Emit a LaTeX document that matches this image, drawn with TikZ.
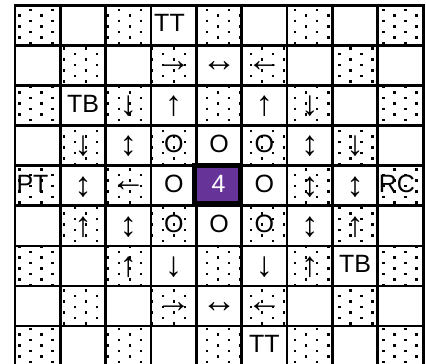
\documentclass[tikz,border=0pt]{standalone}
\usepackage{fontspec}
\setmainfont{Liberation Sans}
\definecolor{cellpurple}{RGB}{102,51,153}
\begin{document}
\begin{tikzpicture}[x=1pt,y=-1pt,
  gridline/.style={line width=2.7pt,black,line cap=rect},
  centerbox/.style={line width=5.5pt,draw=black,fill=cellpurple},
  lab/.style={inner sep=0pt,font=\fontsize{25}{30}\selectfont},
  arr/.style={inner sep=0pt,font=\fontsize{35}{40}\selectfont},
  dotsq/.style={fill=black}]
\useasboundingbox (0,0) rectangle (426,364);
\def\xo{15}\def\yo{5.3}\def\cw{45.35}\def\ch{40.1}
\fill[white] (0,0) rectangle (426,364);
% dotted cells
\begin{scope}
\clip \foreach \c/\r in {1/1,3/1,5/1,7/1,9/1,2/2,4/2,6/2,8/2,1/3,3/3,5/3,7/3,9/3,2/4,4/4,6/4,8/4,1/5,3/5,7/5,9/5,2/6,4/6,6/6,8/6,1/7,3/7,5/7,7/7,9/7,2/8,4/8,6/8,8/8,1/9,3/9,5/9,7/9,9/9}
  {({\xo+(\c-1)*\cw},{\yo+(\r-1)*\ch}) rectangle ++(\cw,\ch)};
\foreach \i in {0,...,18}{
  \foreach \j in {0,...,33}{
    \fill[dotsq] ({30.7+22.04*\i-1.25},{10+11*\j-1.25}) rectangle ++(2.5,2.5);
    \fill[dotsq] ({19.7+22.04*\i-1.25},{15.5+11*\j-1.25}) rectangle ++(2.5,2.5);
  }}
\end{scope}
% grid
\foreach \k in {0,...,9}{
  \draw[gridline] ({\xo+\k*\cw},\yo) -- ({\xo+\k*\cw},{\yo+9*\ch});
  \draw[gridline] (\xo,{\yo+\k*\ch}) -- ({\xo+9*\cw},{\yo+\k*\ch});
}
% centre cell
\draw[centerbox] (194.5,165.5) rectangle (240.5,203.5);
\node[lab,text=white] (n55) at (218.5,184.2) {4};
% letters
\foreach \c/\r/\t in {2/3/TB,4/4/O,5/4/O,6/4/O,4/5/O,6/5/O,4/6/O,5/6/O,6/6/O,8/7/TB,6/9/TT}
  \node[lab] (n\c\r) at ({\xo+(\c-0.5)*\cw},{\yo+(\r-0.5)*\ch-2}) {\t};
\node[lab] (n41) at (169.5,{\yo+0.5*\ch-2}) {TT};
\node[lab] (n15) at (32.5,{\yo+4.5*\ch-2}) {PT};
\node[lab] (n95) at (397,{\yo+4.5*\ch-2}) {RC};
% arrows
\foreach \c/\r/\t in {4/2/→,5/2/↔,6/2/←,3/3/↓,4/3/↑,6/3/↑,7/3/↓,2/4/↓,3/4/↕,7/4/↕,8/4/↓,2/5/↕,3/5/←,7/5/↕,8/5/↕,2/6/↑,3/6/↕,7/6/↕,8/6/↑,3/7/↑,4/7/↓,6/7/↓,7/7/↑,4/8/→,5/8/↔,6/8/←}
  \node[arr] (a\c\r) at ({\xo+(\c-0.5)*\cw},{\yo+(\r-0.5)*\ch+1}) {\t};
\end{tikzpicture}
\end{document}
